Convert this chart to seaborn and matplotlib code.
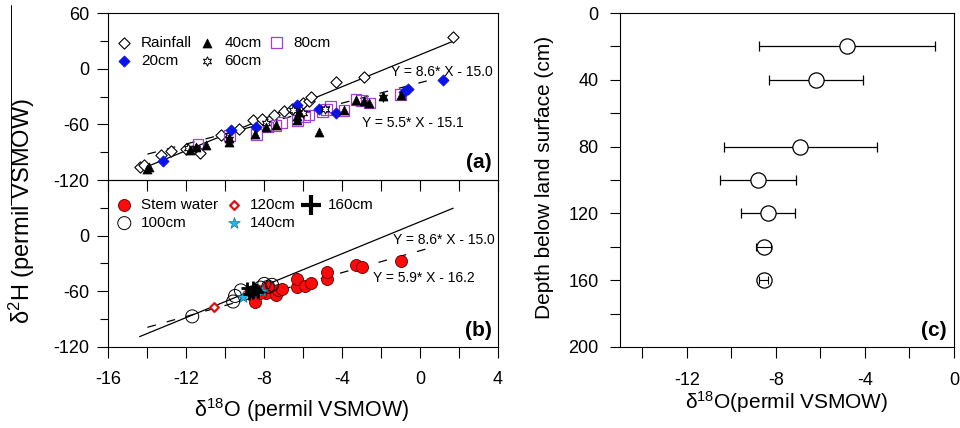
import matplotlib
matplotlib.use('Agg')
import matplotlib.pyplot as plt
import seaborn as sns
import numpy as np
from matplotlib.ticker import MultipleLocator
from matplotlib.lines import Line2D

# ---- panel (a): rainfall and soil water 20-80 cm ----
rain_x = [-14.4, -14.2, -13.3, -12.8, -12.0, -11.3, -10.2, -9.3, -8.6, -8.1, -7.5, -7.0, -6.6, -6.1, -6.0, -5.7, -5.6, -4.3, -2.9, 1.7]
rain_y = [-106, -104, -93, -89, -87, -91, -71, -65, -55, -54, -50, -46, -43, -39, -37, -35, -30, -14, -9, 34]

cm20_x = [-13.2, -9.7, -8.4, -6.3, -5.2, -4.3, -0.8, -0.6, 1.2]
cm20_y = [-100, -66, -63, -39, -43, -48, -25, -22, -12]

cm40_x = [-14.0, -13.9, -11.8, -11.5, -11.0, -9.8, -9.8, -8.5, -7.9, -7.4, -6.3, -6.2, -6.3, -5.2, -3.9, -3.3, -2.9, -2.6, -1.9, -1.0]
cm40_y = [-108, -106, -88, -84, -82, -75, -79, -70, -63, -61, -55, -47, -51, -68, -45, -34, -35, -37, -29, -28]

cm60_x = [-11.9, -11.5, -9.8, -7.9, -6.5, -6.0, -4.9, -1.9]
cm60_y = [-86, -85, -76, -59, -44, -48, -43, -30]

cm80_x = [-11.4, -9.8, -8.4, -7.8, -7.4, -7.1, -6.3, -5.9, -5.7, -5.0, -4.8, -4.6, -3.9, -3.3, -3.0, -2.6, -1.0]
cm80_y = [-81, -72, -71, -63, -61, -58, -56, -52, -50, -46, -44, -41, -45, -33, -34, -37, -28]

# ---- panel (b): stem water and soil water 100-160 cm ----
stem_x = [-8.5, -8.4, -7.9, -7.4, -7.3, -7.1, -6.3, -6.3, -5.9, -5.6, -4.8, -4.8, -3.3, -3.0, -1.0, -8.2, -7.8]
stem_y = [-71, -59, -62, -64, -59, -57, -55, -47, -54, -51, -47, -39, -32, -34, -27, -62, -55]

cm100_x = [-11.7, -9.6, -9.5, -9.2, -8.0, -7.6, -7.8, -8.2]
cm100_y = [-87, -71, -65, -59, -52, -53, -55, -56]

cm120_x = [-10.6, -8.8]
cm120_y = [-77, -60]

cm140_x = [-9.1, -8.6, -8.4, -8.1]
cm140_y = [-66, -58, -62, -60]

cm160_x = [-8.9, -8.7, -8.6, -8.5, -8.4, -8.3, -8.6, -8.8]
cm160_y = [-56, -60, -62, -58, -59, -61, -55, -63]

# fitted lines (slope, intercept, x range) and their printed labels
lmwl = (8.6, 15.0, [-14.4, 1.7])
soil_fit = (5.5, -15.1, [-14.0, 0.5])
stem_fit = (5.9, -16.2, [-14.0, 0.6])
lmwl_label = 'Y = 8.6* X - 15.0'
soil_label = 'Y = 5.5* X - 15.1'
stem_label = 'Y = 5.9* X - 16.2'

# ---- panel (c): soil water d18O profile ----
depth = [20, 40, 80, 100, 120, 140, 160]
d18o_mean = [-4.8, -6.2, -6.9, -8.8, -8.35, -8.55, -8.55]
d18o_sd = [3.95, 2.1, 3.45, 1.72, 1.2, 0.32, 0.22]


sns.set_style('ticks')
plt.rcParams['font.family'] = ['Liberation Sans', 'DejaVu Sans']
plt.rcParams['mathtext.fontset'] = 'custom'
plt.rcParams['mathtext.rm'] = 'Liberation Sans'
plt.rcParams['mathtext.it'] = 'Liberation Sans:italic'
plt.rcParams['axes.unicode_minus'] = False
plt.rcParams['axes.linewidth'] = 0.8
for key in ['text.color', 'axes.labelcolor', 'axes.edgecolor', 'xtick.color', 'ytick.color']:
    plt.rcParams[key] = 'black'


def fit_line(ax, fit, style):
    slope, icpt, xr = fit
    xs = np.array(xr)
    sns.lineplot(x=xs, y=slope * xs + icpt, ax=ax, color='black', lw=0.9, linestyle=style, zorder=2)


def style_iso_axes(ax, ylabels):
    ax.set_xlim(-16, 4)
    ax.set_ylim(-120, 60)
    ax.xaxis.set_major_locator(MultipleLocator(4))
    ax.xaxis.set_minor_locator(MultipleLocator(2))
    ax.set_yticks(ylabels)
    ax.set_yticks([-90, -30, 30], minor=True)
    ax.tick_params(axis='y', which='major', direction='out', length=8, width=0.8, labelsize=13, pad=6)
    ax.tick_params(axis='y', which='minor', direction='out', length=6, width=0.8)
    ax.tick_params(axis='x', which='both', direction='out', length=8, width=0.8, labelsize=13, pad=9)
    ax.set_facecolor('none')
    for sp in ax.spines.values():
        sp.set_visible(True)
        sp.set_linewidth(0.8)
    ax.set_xlabel('')
    ax.set_ylabel('')


fig = plt.figure(figsize=(9.6, 4.28), dpi=100)
ax_a = fig.add_axes([0.113, 0.5794, 0.4057, 0.3902])
ax_b = fig.add_axes([0.113, 0.1893, 0.4057, 0.3901])
ax_c = fig.add_axes([0.6458, 0.1893, 0.3479, 0.7803])

# ---- (a) ----
fit_line(ax_a, lmwl, '-')
fit_line(ax_a, soil_fit, (0, (7, 9)))
sns.scatterplot(x=rain_x, y=rain_y, ax=ax_a, marker='D', s=33, color='white', edgecolor='black', linewidth=0.8, label='Rainfall', zorder=3)
sns.scatterplot(x=cm40_x, y=cm40_y, ax=ax_a, marker='^', s=42, color='black', edgecolor='black', linewidth=0.5, label='40cm', zorder=4)
sns.scatterplot(x=cm80_x, y=cm80_y, ax=ax_a, marker='s', s=58, color='none', edgecolor='#a23fd6', linewidth=0.9, label='80cm', zorder=3)
sns.scatterplot(x=cm20_x, y=cm20_y, ax=ax_a, marker='D', s=33, color='#0a14e8', edgecolor='#0a14e8', linewidth=0.5, label='20cm', zorder=3)
sns.scatterplot(x=cm60_x, y=cm60_y, ax=ax_a, marker=(6, 1, 0), s=45, color='white', edgecolor='black', linewidth=0.7, label='60cm', zorder=3)

h, l = ax_a.get_legend_handles_labels()
order = [l.index(n) for n in ['Rainfall', '20cm', '40cm', '60cm', '80cm']]
leg = ax_a.legend([h[i] for i in order], [l[i] for i in order], ncol=3, loc='upper left',
                  bbox_to_anchor=(0.021, 0.865), frameon=False, fontsize=11, borderpad=0,
                  borderaxespad=0, handlelength=1.0, handletextpad=0.6, columnspacing=0.5,
                  labelspacing=0.3)
style_iso_axes(ax_a, [-120, -60, 0, 60])
ax_a.tick_params(axis='x', labelbottom=False)
ax_a.text(0.987, 0.647, lmwl_label, transform=ax_a.transAxes, ha='right', va='center', fontsize=10)
ax_a.text(0.651, 0.341, soil_label, transform=ax_a.transAxes, ha='left', va='center', fontsize=10)
ax_a.text(0.985, 0.048, '(a)', transform=ax_a.transAxes, ha='right', va='bottom', fontsize=15, fontweight='bold')

# ---- (b) ----
fit_line(ax_b, lmwl, '-')
fit_line(ax_b, stem_fit, (0, (7, 9)))
sns.scatterplot(x=stem_x, y=stem_y, ax=ax_b, marker='o', s=75, color='#ff0a0a', edgecolor='#5a0000', linewidth=0.6, label='Stem water', zorder=3)
sns.scatterplot(x=cm100_x, y=cm100_y, ax=ax_b, marker='o', s=88, color='none', edgecolor='black', linewidth=0.7, label='100cm', zorder=3)
sns.scatterplot(x=cm120_x, y=cm120_y, ax=ax_b, marker='D', s=20, color='white', edgecolor='#e01010', linewidth=1.6, label='120cm', zorder=3)
sns.scatterplot(x=cm140_x, y=cm140_y, ax=ax_b, marker='*', s=75, color='#22b8ea', edgecolor='#1a6e96', linewidth=0.5, label='140cm', zorder=4)
sns.scatterplot(x=cm160_x, y=cm160_y, ax=ax_b, marker='+', s=80, color='black', linewidth=2.0, label='160cm', zorder=5)

h, l = ax_b.get_legend_handles_labels()
order = [l.index(n) for n in ['Stem water', '100cm', '120cm', '140cm', '160cm']]
leg = ax_b.legend([h[i] for i in order], [l[i] for i in order], ncol=3, loc='upper left',
                  bbox_to_anchor=(0.021, 0.895), frameon=False, fontsize=11, borderpad=0,
                  borderaxespad=0, handlelength=1.0, handletextpad=0.6, columnspacing=0.5,
                  labelspacing=0.3)
leg.legend_handles[4].set_sizes([220])
leg.legend_handles[4].set_linewidths([3.0])
style_iso_axes(ax_b, [-120, -60, 0])
ax_b.text(0.992, 0.641, lmwl_label, transform=ax_b.transAxes, ha='right', va='center', fontsize=10)
ax_b.text(0.679, 0.413, stem_label, transform=ax_b.transAxes, ha='left', va='center', fontsize=10)
ax_b.text(0.985, 0.042, '(b)', transform=ax_b.transAxes, ha='right', va='bottom', fontsize=15, fontweight='bold')

# ---- (c) ----
big = [i for i, s in enumerate(d18o_sd) if s > 0.5]
small = [i for i, s in enumerate(d18o_sd) if s <= 0.5]
ax_c.errorbar([d18o_mean[i] for i in big], [depth[i] for i in big], xerr=[d18o_sd[i] for i in big],
              fmt='none', ecolor='black', elinewidth=0.9, capsize=3.5, capthick=0.9, zorder=2)
sns.scatterplot(x=d18o_mean, y=depth, ax=ax_c, marker='o', s=120, color='white', edgecolor='black', linewidth=0.9, zorder=3)
ax_c.errorbar([d18o_mean[i] for i in small], [depth[i] for i in small], xerr=[d18o_sd[i] for i in small],
              fmt='none', ecolor='black', elinewidth=0.8, capsize=3.0, capthick=0.8, zorder=4)
ax_c.set_xlim(-15, 0)
ax_c.set_ylim(200, 0)
ax_c.xaxis.set_major_locator(MultipleLocator(4))
ax_c.xaxis.set_minor_locator(MultipleLocator(2))
ax_c.yaxis.set_major_locator(MultipleLocator(40))
ax_c.yaxis.set_minor_locator(MultipleLocator(20))
ax_c.tick_params(axis='y', which='both', direction='out', length=7.5, width=0.8, labelsize=13, pad=8)
ax_c.tick_params(axis='x', which='both', direction='out', length=8, width=0.8, labelsize=13, pad=10)
for sp in ax_c.spines.values():
    sp.set_visible(True)
    sp.set_linewidth(0.8)
ax_c.set_xlabel('')
ax_c.set_ylabel('')
ax_c.text(0.979, 0.021, '(c)', transform=ax_c.transAxes, ha='right', va='bottom', fontsize=15, fontweight='bold')

# axis titles
fig.text(22 / 960, 1 - 211 / 428, r'δ$^{2}$H (permil VSMOW)', rotation=90, ha='center', va='center', fontsize=17)
fig.text(302 / 960, 1 - 410 / 428, r'δ$^{18}$O (permil VSMOW)', ha='center', va='center', fontsize=15.5)
fig.text(545 / 960, 1 - 177 / 428, 'Depth below land surface (cm)', rotation=90, ha='center', va='center', fontsize=15)
fig.text(787 / 960, 1 - 402 / 428, r'δ$^{18}$O(permil VSMOW)', ha='center', va='center', fontsize=15)

# stray vertical rule at the left edge of the source figure
fig.add_artist(Line2D([11 / 960, 11 / 960], [1 - 5 / 428, 1 - 205 / 428], color='black', lw=0.7))

fig.savefig('out.png', dpi=100)
plt.close(fig)
